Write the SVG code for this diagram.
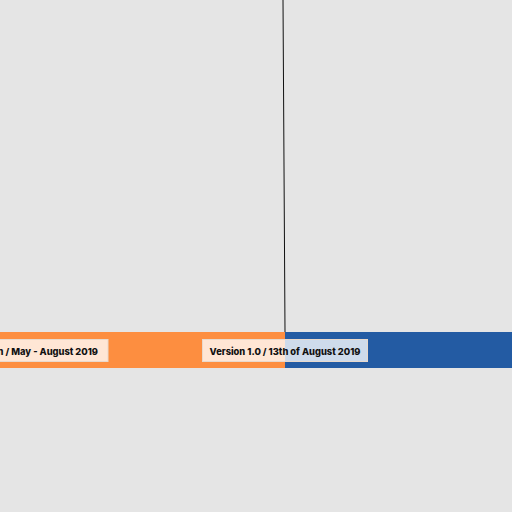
<svg xmlns="http://www.w3.org/2000/svg" width="512" height="512" viewBox="0 0 512 512">
<style>
.lbl{fill:#ffffff;fill-opacity:0.78;stroke:#e8d9cc;stroke-width:1}
.t{font-family:Inter,"Liberation Sans",sans-serif;font-weight:800;font-size:9.3px;fill:#111111}
</style>
<rect x="0" y="0" width="512" height="512" fill="#e5e5e5"/>
<g id="connectors">
<line x1="283" y1="0" x2="285" y2="332" stroke="#111" stroke-width="1"/>
</g>
<g id="phase-1">
<rect x="0" y="332" width="285" height="36" fill="#fd8e40"/>
</g>
<g id="phase-2">
<rect x="285" y="332" width="227" height="36" fill="#235ba3"/>
</g>
<g id="label-1">
<rect class="lbl" x="-10" y="339.5" width="118" height="22"/>
<text class="t" x="98" y="354.5" text-anchor="end">n / May - August 2019</text>
</g>
<g id="label-2">
<rect class="lbl" x="202.5" y="339.5" width="165" height="22"/>
<text class="t" x="285" y="354.5" text-anchor="middle">Version 1.0 / 13th of August 2019</text>
</g>
</svg>
